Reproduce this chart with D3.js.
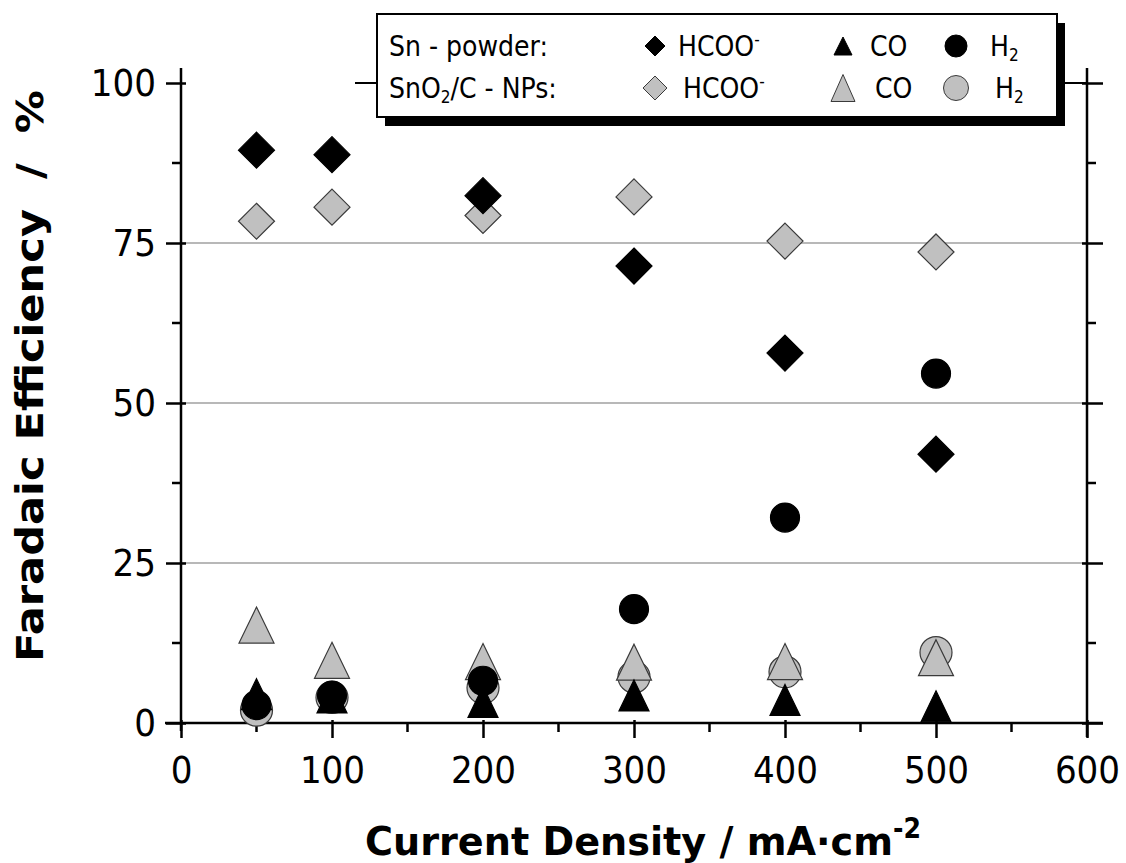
<!DOCTYPE html>
<html>
<head>
<meta charset="utf-8">
<script src="https://cdn.jsdelivr.net/npm/d3@7"></script>
<style>
  body { margin: 0; background: #fff; }
  svg { display: block; }
  text { font-family: "DejaVu Sans Condensed", "DejaVu Sans", sans-serif; fill: #000; }
</style>
</head>
<body>
<div id="chart"></div>
<script>
// --- DATA ---
const currentDensity = [50, 100, 200, 300, 400, 500];      // mA cm-2
const snHCOO = [89.5, 88.8, 82.4, 71.4, 57.8, 42.0];       // Sn powder, formate
const snCO   = [4.5, 4.0, 3.3, 4.3, 3.6, 2.6];
const snH2   = [2.8, 4.3, 6.6, 17.8, 32.1, 54.6];
const npHCOO = [78.4, 80.6, 79.3, 82.2, 75.3, 73.6];       // SnO2/C NPs
const npCO   = [15.3, 9.8, 9.6, 9.5, 9.6, 10.2];
const npH2   = [2.0, 4.0, 5.5, 7.2, 8.0, 11.0];

const xTicks = [0, 100, 200, 300, 400, 500, 600];
const xMinor = [50, 150, 250, 350, 450, 550];
const yTicks = [0, 25, 50, 75, 100];
const yMinor = [12.5, 37.5, 62.5, 87.5];
const gridValues = [25, 50, 75];

// --- SETUP ---
const width = 1126, height = 863;
const svg = d3.select("#chart").append("svg")
  .attr("width", width).attr("height", height);

const x = d3.scaleLinear().domain([0, 600]).range([181, 1087]);
const y = d3.scaleLinear().domain([0, 100]).range([723, 83]);

const BLACK = "#000", GREY = "#c0c0c0", GREY_EDGE = "#3a3a3a";

// marker shapes (centred on the data point)
function diamondPath(s) { const h = s / 2; return `M0,${-h}L${h},0L0,${h}L${-h},0Z`; }
function trianglePath(w, h) { return `M0,${-h/2}L${w/2},${h/2}L${-w/2},${h/2}Z`; }
function circlePath(d) { return d3.symbol(d3.symbolCircle, Math.PI * (d/2) * (d/2))(); }

// --- GRID ---
svg.append("g").selectAll("line").data(gridValues).join("line")
  .attr("x1", x(0)).attr("x2", x(600))
  .attr("y1", d => y(d)).attr("y2", d => y(d))
  .attr("stroke", "#a0a0a0").attr("stroke-width", 1.3);
// line at 100 that runs behind the legend
svg.append("line").attr("x1", 355).attr("x2", x(600))
  .attr("y1", y(100)).attr("y2", y(100)).attr("stroke", BLACK).attr("stroke-width", 2);

// --- AXES ---
const fmt = d3.format("d");
const xAxis = svg.append("g").attr("transform", `translate(0,${y(0)})`)
  .call(d3.axisBottom(x).tickValues(xTicks).tickSize(15).tickPadding(18).tickFormat(fmt));
xAxis.append("g").selectAll("line").data(xMinor).join("line")
  .attr("x1", d => x(d)).attr("x2", d => x(d)).attr("y1", 0).attr("y2", 9);

const yAxis = svg.append("g").attr("transform", `translate(${x(0)},0)`)
  .call(d3.axisLeft(y).tickValues(yTicks).tickSize(15).tickPadding(10).tickFormat(fmt));
yAxis.append("g").selectAll("line").data(yMinor).join("line")
  .attr("y1", d => y(d)).attr("y2", d => y(d)).attr("x1", 0).attr("x2", -9);

const yAxisR = svg.append("g").attr("transform", `translate(${x(600)},0)`)
  .call(d3.axisRight(y).tickValues(yTicks).tickSize(16).tickFormat(""));
yAxisR.append("g").selectAll("line").data(yMinor).join("line")
  .attr("y1", d => y(d)).attr("y2", d => y(d)).attr("x1", 0).attr("x2", 9);

[xAxis, yAxis, yAxisR].forEach(g => {
  g.select(".domain").remove();
  g.selectAll("line").attr("stroke", BLACK).attr("stroke-width", 2.5);
  g.selectAll("text").attr("font-size", 38).attr("font-family", null).attr("fill", BLACK);
});
// ticks cross the axis a little on the inner side
yAxis.selectAll(".tick line").attr("x2", 5).attr("x1", -15);
yAxisR.selectAll(".tick line").attr("x2", 16).attr("x1", -5);
xAxis.selectAll(".tick line").attr("y1", -3);

// axis lines (slightly overshooting like the original)
svg.append("line").attr("x1", x(0) - 16).attr("x2", x(600) + 16)
  .attr("y1", y(0)).attr("y2", y(0)).attr("stroke", BLACK).attr("stroke-width", 2.5);
svg.append("line").attr("x1", x(0)).attr("x2", x(0))
  .attr("y1", y(100) - 15).attr("y2", y(0) + 8).attr("stroke", BLACK).attr("stroke-width", 2.5);
svg.append("line").attr("x1", x(600)).attr("x2", x(600))
  .attr("y1", y(100) - 15).attr("y2", y(0) + 14).attr("stroke", BLACK).attr("stroke-width", 2.5);

// --- AXIS TITLES ---
svg.append("text")
  .attr("transform", `translate(43,${(90 + 662) / 2}) rotate(-90)`)
  .attr("text-anchor", "middle").attr("font-weight", "bold").attr("font-size", 37)
  .attr("textLength", 572).attr("lengthAdjust", "spacingAndGlyphs")
  .attr("xml:space", "preserve")
  .text("Faradaic Efficiency  /  %");

const xt = svg.append("text")
  .attr("x", 365).attr("y", 855).attr("font-weight", "bold").attr("font-size", 39)
  .attr("xml:space", "preserve");
xt.append("tspan").attr("textLength", 528).attr("lengthAdjust", "spacingAndGlyphs")
  .text("Current Density / mA·cm");
xt.append("tspan").attr("dy", -17).attr("font-size", 28).text("-2");

// --- POINTS ---
function series(vals, shape, fill, stroke) {
  svg.append("g").selectAll("path")
    .data(currentDensity.map((c, i) => ({ c, v: vals[i] })))
    .join("path")
    .attr("transform", d => `translate(${x(d.c)},${y(d.v)})`)
    .attr("d", shape)
    .attr("fill", fill).attr("stroke", stroke).attr("stroke-width", 1.2);
}
series(npH2, circlePath(32), GREY, GREY_EDGE);
series(npCO, trianglePath(35, 36), GREY, GREY_EDGE);
series(npHCOO, diamondPath(36), GREY, GREY_EDGE);
series(snHCOO, diamondPath(36), BLACK, BLACK);
series(snCO, trianglePath(30, 31), BLACK, BLACK);
series(snH2, circlePath(29), BLACK, BLACK);

// --- LEGEND ---
const lg = svg.append("g");
lg.append("rect").attr("x", 385).attr("y", 23).attr("width", 680).attr("height", 103).attr("fill", BLACK);
lg.append("rect").attr("x", 377).attr("y", 14).attr("width", 680).attr("height", 103)
  .attr("fill", "#fff").attr("stroke", BLACK).attr("stroke-width", 2);

const legendRows = [
  { y: 46, label: ["Sn - powder:"], fill: BLACK, stroke: BLACK, sizes: [20, [18, 18], 22] },
  { y: 88, label: ["SnO", "2", "/C - NPs:"], fill: GREY, stroke: GREY_EDGE, sizes: [24, [24, 27], 25] }
];
const FS = 28;
legendRows.forEach((r, ri) => {
  const t = lg.append("text").attr("x", 389).attr("y", r.y + 10).attr("font-size", FS);
  if (r.label.length === 1) t.text(r.label[0]);
  else {
    t.append("tspan").text(r.label[0]);
    t.append("tspan").attr("font-size", 17).attr("dy", 5).text(r.label[1]);
    t.append("tspan").attr("dy", -5).text(r.label[2]);
  }
  const dx = ri === 0 ? 0 : 5;
  lg.append("path").attr("transform", `translate(655,${r.y})`).attr("d", diamondPath(r.sizes[0]))
    .attr("fill", r.fill).attr("stroke", r.stroke);
  const h = lg.append("text").attr("x", 678 + dx).attr("y", r.y + 10).attr("font-size", FS);
  h.append("tspan").text("HCOO");
  h.append("tspan").attr("font-size", 17).attr("dy", -11).text("-");
  lg.append("path").attr("transform", `translate(843,${r.y})`).attr("d", trianglePath(r.sizes[1][0], r.sizes[1][1]))
    .attr("fill", r.fill).attr("stroke", r.stroke);
  lg.append("text").attr("x", 870 + dx).attr("y", r.y + 10).attr("font-size", FS).text("CO");
  lg.append("path").attr("transform", `translate(956,${r.y})`).attr("d", circlePath(r.sizes[2]))
    .attr("fill", r.fill).attr("stroke", r.stroke);
  const hh = lg.append("text").attr("x", 990 + dx).attr("y", r.y + 10).attr("font-size", FS);
  hh.append("tspan").text("H");
  hh.append("tspan").attr("font-size", 17).attr("dy", 5).text("2");
});
</script>
</body>
</html>
